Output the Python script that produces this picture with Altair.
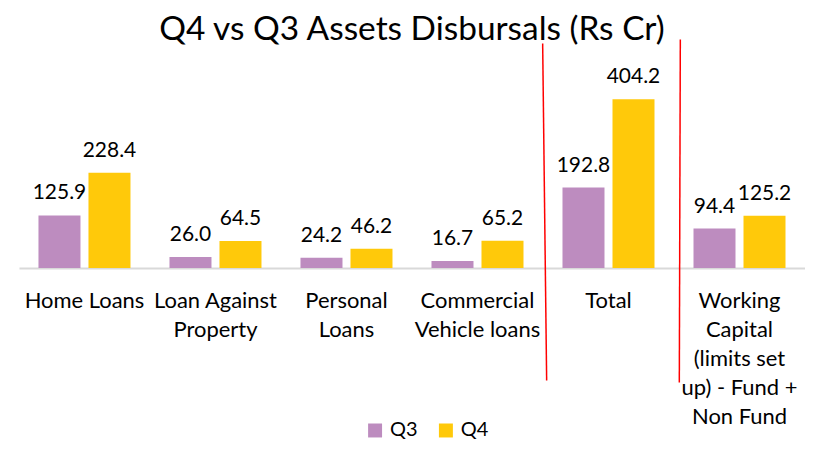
import altair as alt
import pandas as pd

title_text = "Q4 vs Q3 Assets Disbursals (Rs Cr)"
categories = ["Home Loans", "Loan Against|Property", "Personal|Loans",
              "Commercial|Vehicle loans", "Total",
              "Working|Capital|(limits set|up) - Fund +|Non Fund"]
q3 = [125.9, 26.0, 24.2, 16.7, 192.8, 94.4]
q4 = [228.4, 64.5, 46.2, 65.2, 404.2, 125.2]
series = ["Q3", "Q4"]
colors = ["#BD8CBF", "#FFC90A"]

rows = []
for c, a, b in zip(categories, q3, q4):
    rows.append({"cat": c, "series": "Q3", "value": a})
    rows.append({"cat": c, "series": "Q4", "value": b})
df = pd.DataFrame(rows)

FONT = "Lato"
W, H = 788, 209

x = alt.X("cat:N", sort=categories,
          scale=alt.Scale(paddingInner=0, paddingOuter=0),
          axis=alt.Axis(title=None, ticks=False, domainColor="#D9D9D9", domainWidth=2,
                        labelFont=FONT, labelFontSize=22, labelColor="#000000",
                        labelAngle=0, labelPadding=23, labelLineHeight=29,
                        labelBaseline="top", labelLimit=0, labelOverlap=False,
                        labelExpr="split(datum.label, '|')"))
y = alt.Y("value:Q", scale=alt.Scale(domain=[0, 500], nice=False), axis=None)
xo = alt.XOffset("series:N", sort=series,
                 scale=alt.Scale(paddingInner=0.16, paddingOuter=0.39))

base = alt.Chart(df).encode(x=x, y=y, xOffset=xo)

bars = base.mark_bar().encode(
    color=alt.Color("series:N", sort=series,
                    scale=alt.Scale(domain=series, range=colors),
                    legend=alt.Legend(title=None, orient="none", direction="horizontal",
                                      legendX=347, legendY=362, padding=0,
                                      symbolType="square", symbolSize=196,
                                      symbolStrokeWidth=0, labelFont=FONT,
                                      labelFontSize=20, labelColor="#000000",
                                      labelOffset=5, columnPadding=18))
)

labels = base.mark_text(font=FONT, fontSize=21, color="#000000",
                        baseline="alphabetic", dy=-16).encode(
    text=alt.Text("value:Q", format=".1f"))

red_lines = pd.DataFrame({"x": [525, 663], "x2": [529, 662],
                          "y": [-16, -20], "y2": [322, 324]})
rules = alt.Chart(red_lines).mark_rule(color="#FF0000", strokeWidth=1.5).encode(
    x=alt.X("x:Q", scale=None), x2="x2:Q",
    y=alt.Y("y:Q", scale=None), y2="y2:Q")

title = alt.Chart(pd.DataFrame({"t": [title_text]})).mark_text(
    font=FONT, fontSize=33.5, color="#000000", align="center", baseline="alphabetic"
).encode(text="t:N", x=alt.value(W / 2), y=alt.value(-19))

chart = alt.layer(bars, labels, rules, title).properties(
    width=W, height=H,
    padding={"left": 11, "top": 51, "right": 0, "bottom": 172},
    autosize=alt.AutoSizeParams(type="none"),
).configure_view(stroke=None)

chart.save("out.html", embed_options={"renderer": "svg", "actions": False})
